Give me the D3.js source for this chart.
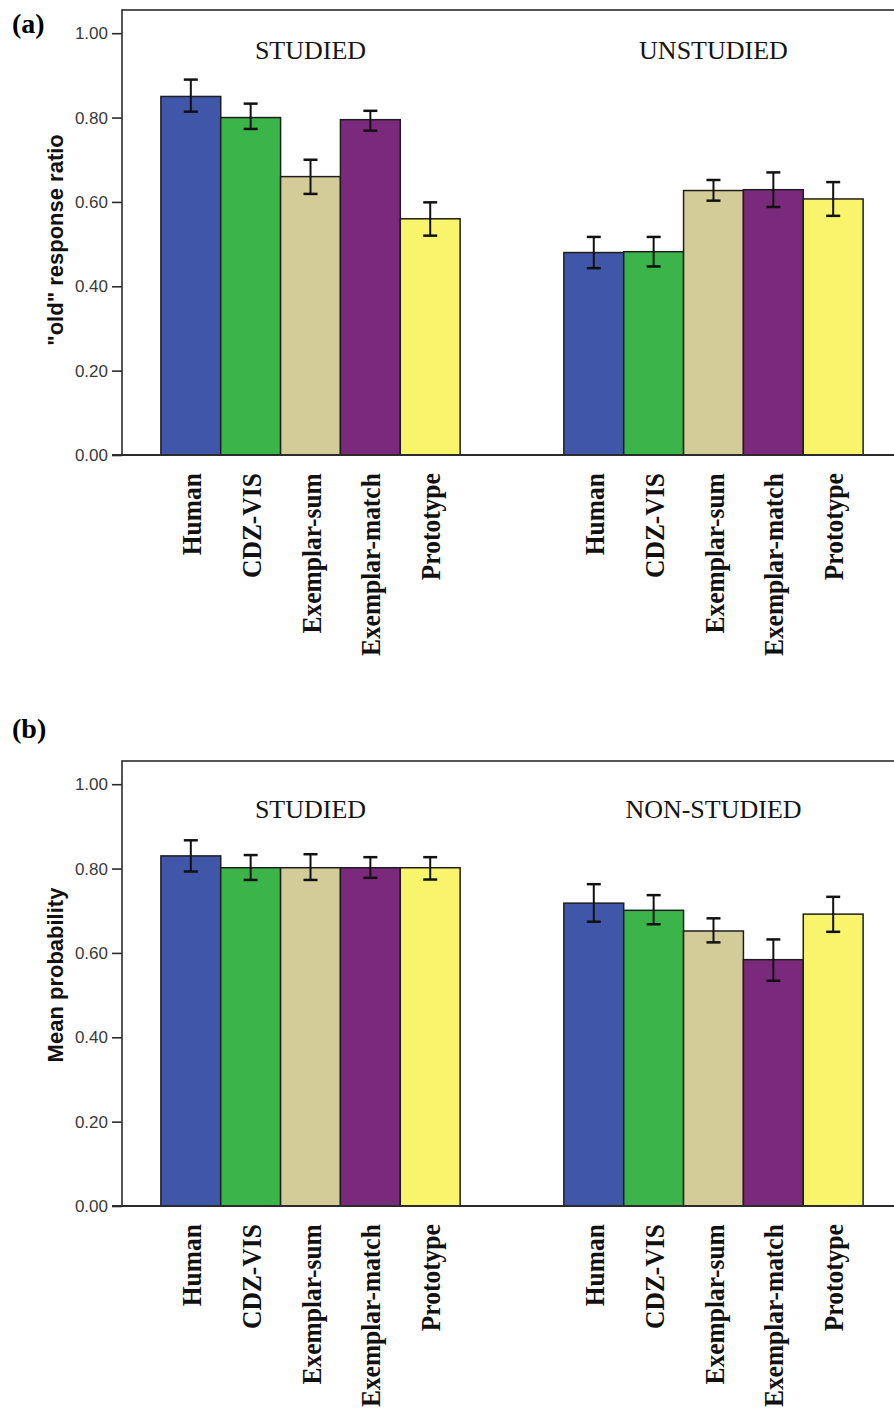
<!DOCTYPE html>
<html>
<head>
<meta charset="utf-8">
<script src="https://cdn.jsdelivr.net/npm/d3@7/dist/d3.min.js"></script>
<style>
  html, body { margin: 0; padding: 0; background: #fff; }
  svg { display: block; }
</style>
</head>
<body>
<svg id="chart" width="894" height="1423"></svg>
<script>
// Models compared in both panels
const models = ["Human", "CDZ-VIS", "Exemplar-sum", "Exemplar-match", "Prototype"];
const modelColors = ["#4056a9", "#3bb54a", "#d3cc98", "#7b297c", "#f8f46b"];
const yTicks = [0, 0.2, 0.4, 0.6, 0.8, 1.0];
const yTickLabels = ["0.00", "0.20", "0.40", "0.60", "0.80", "1.00"];

// Panel (a): "old" response ratio
const conditionsA = ["STUDIED", "UNSTUDIED"];
const studiedA      = [0.850, 0.800, 0.660, 0.795, 0.560];
const studiedA_lo   = [0.814, 0.773, 0.619, 0.769, 0.520];
const studiedA_hi   = [0.890, 0.833, 0.700, 0.816, 0.599];
const unstudiedA    = [0.480, 0.482, 0.627, 0.629, 0.607];
const unstudiedA_lo = [0.443, 0.447, 0.603, 0.588, 0.567];
const unstudiedA_hi = [0.517, 0.517, 0.652, 0.670, 0.647];

// Panel (b): mean probability
const conditionsB = ["STUDIED", "NON-STUDIED"];
const studiedB      = [0.830, 0.802, 0.802, 0.802, 0.802];
const studiedB_lo   = [0.793, 0.773, 0.773, 0.778, 0.774];
const studiedB_hi   = [0.867, 0.832, 0.834, 0.827, 0.827];
const nonstudiedB    = [0.718, 0.701, 0.652, 0.584, 0.692];
const nonstudiedB_lo = [0.674, 0.668, 0.625, 0.534, 0.650];
const nonstudiedB_hi = [0.763, 0.737, 0.682, 0.632, 0.733];

const svg = d3.select("#chart");

function group(values, lo, hi) {
  return models.map((m, i) => ({ model: m, color: modelColors[i], v: values[i], lo: lo[i], hi: hi[i] }));
}

function drawPanel(cfg) {
  const g = svg.append("g");

  const y = d3.scaleLinear().domain([0, 1.055]).range([cfg.bottom, cfg.top]);
  const x = d3.scaleBand().domain(cfg.conditions)
    .range([cfg.left, cfg.right]).paddingInner(0.2574).paddingOuter(0.0965);
  const xi = d3.scaleBand().domain(models).range([0, x.bandwidth()]).padding(0);

  // frame
  g.append("rect")
    .attr("x", cfg.left).attr("y", cfg.top)
    .attr("width", cfg.right - cfg.left).attr("height", cfg.bottom - cfg.top)
    .attr("fill", "#fff").attr("stroke", "#2b2b2b").attr("stroke-width", 1.6);

  // y axis
  const yAxis = d3.axisLeft(y).tickValues(yTicks)
    .tickFormat((d, i) => yTickLabels[i]).tickSize(10).tickPadding(4);
  const ya = g.append("g").attr("transform", `translate(${cfg.left},0)`).call(yAxis);
  ya.select(".domain").remove();
  ya.selectAll(".tick line").attr("stroke", "#2b2b2b").attr("stroke-width", 1.6);
  ya.selectAll(".tick text")
    .attr("font-family", "'Liberation Sans', Arial, sans-serif")
    .attr("font-size", 17).attr("fill", "#3a3a3a");

  // y-axis title
  g.append("text")
    .attr("transform", `translate(${cfg.yTitleX},${cfg.yTitleY}) rotate(-90)`)
    .attr("text-anchor", "middle")
    .attr("font-family", "'Liberation Sans', Arial, sans-serif")
    .attr("font-weight", "bold").attr("font-size", 22).attr("fill", "#111")
    .text(cfg.yTitle);

  cfg.groups.forEach((grp, gi) => {
    const cond = cfg.conditions[gi];
    const gx = x(cond);
    const gg = g.append("g").attr("transform", `translate(${gx},0)`);

    gg.selectAll("rect.bar").data(grp).join("rect")
      .attr("class", "bar")
      .attr("x", d => xi(d.model))
      .attr("y", d => y(d.v))
      .attr("width", xi.bandwidth())
      .attr("height", d => y(0) - y(d.v))
      .attr("fill", d => d.color)
      .attr("stroke", "#1e1e1e").attr("stroke-width", 1.5);

    // error bars
    const eb = gg.selectAll("g.err").data(grp).join("g").attr("class", "err")
      .attr("transform", d => `translate(${xi(d.model) + xi.bandwidth() / 2},0)`);
    eb.append("line").attr("x1", 0).attr("x2", 0)
      .attr("y1", d => y(d.lo)).attr("y2", d => y(d.hi))
      .attr("stroke", "#111").attr("stroke-width", 2);
    eb.append("line").attr("x1", -7).attr("x2", 7)
      .attr("y1", d => y(d.hi)).attr("y2", d => y(d.hi))
      .attr("stroke", "#111").attr("stroke-width", 2.5);
    eb.append("line").attr("x1", -7).attr("x2", 7)
      .attr("y1", d => y(d.lo)).attr("y2", d => y(d.lo))
      .attr("stroke", "#111").attr("stroke-width", 2.5);

    // condition title
    g.append("text")
      .attr("x", gx + x.bandwidth() / 2)
      .attr("y", y(1.0) + cfg.condTitleOffset)
      .attr("text-anchor", "middle")
      .attr("font-family", "'Liberation Serif', 'Times New Roman', serif")
      .attr("font-size", 26).attr("fill", "#151515")
      .text(cond);

    // model labels under the bars
    const xa = gg.append("g").attr("transform", `translate(0,${cfg.bottom})`)
      .call(d3.axisBottom(xi).tickSize(0));
    xa.select(".domain").remove();
    xa.selectAll(".tick text")
      .attr("transform", "rotate(-90) scale(0.91,1)")
      .attr("x", -20).attr("y", 0).attr("dy", "0.36em")
      .attr("text-anchor", "end")
      .attr("font-family", "'Liberation Serif', 'Times New Roman', serif")
      .attr("font-weight", "bold").attr("font-size", 28).attr("fill", "#111");
  });

  // baseline drawn over bar edges
  g.append("line")
    .attr("x1", cfg.left - 10).attr("x2", cfg.right)
    .attr("y1", y(0)).attr("y2", y(0))
    .attr("stroke", "#2b2b2b").attr("stroke-width", 2);

  // panel letter
  svg.append("text")
    .attr("x", cfg.letterX).attr("y", cfg.letterY)
    .attr("font-family", "'Liberation Serif', 'Times New Roman', serif")
    .attr("font-weight", "bold").attr("font-size", 28).attr("fill", "#000")
    .text(cfg.letter);
}

drawPanel({
  letter: "(a)", letterX: 12, letterY: 33,
  top: 10, bottom: 455, left: 122, right: 902,
  conditions: conditionsA,
  groups: [group(studiedA, studiedA_lo, studiedA_hi), group(unstudiedA, unstudiedA_lo, unstudiedA_hi)],
  yTitle: "\"old\" response ratio", yTitleX: 63, yTitleY: 240,
  condTitleOffset: 26
});

drawPanel({
  letter: "(b)", letterX: 12, letterY: 738,
  top: 761, bottom: 1206, left: 122, right: 902,
  conditions: conditionsB,
  groups: [group(studiedB, studiedB_lo, studiedB_hi), group(nonstudiedB, nonstudiedB_lo, nonstudiedB_hi)],
  yTitle: "Mean probability", yTitleX: 63, yTitleY: 975,
  condTitleOffset: 34
});
</script>
</body>
</html>
